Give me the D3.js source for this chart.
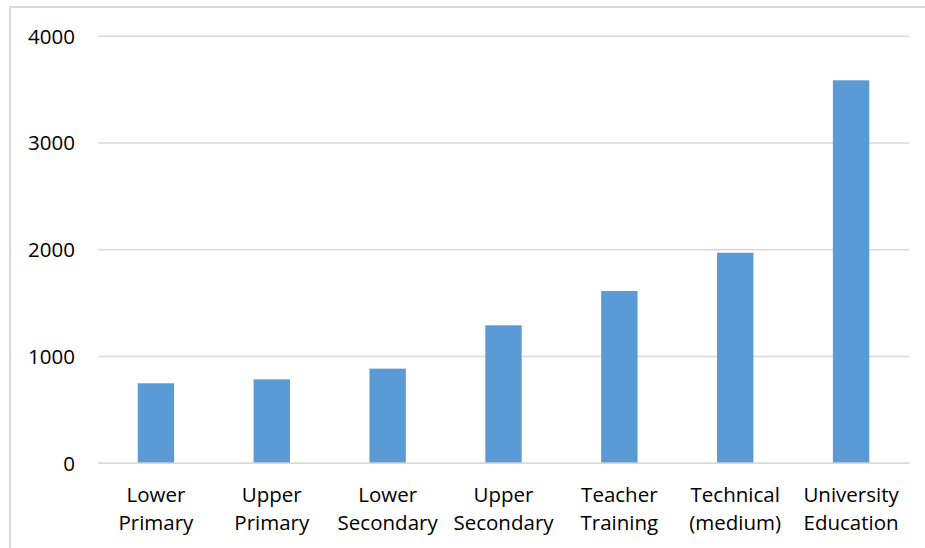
<!DOCTYPE html>
<html><head><meta charset="utf-8">
<script src="https://cdn.jsdelivr.net/npm/d3@7"></script>
<style>body{margin:0;background:#fff}svg{display:block}</style>
</head><body><svg id="c" width="925" height="548"></svg>
<script>
const categories = [["Lower","Primary"],["Upper","Primary"],["Lower","Secondary"],["Upper","Secondary"],["Teacher","Training"],["Technical","(medium)"],["University","Education"]];
const values = [744, 781, 881, 1287, 1608, 1967, 3582];
const yTicks = [0, 1000, 2000, 3000, 4000];

const svg = d3.select("#c");
const font = "'Open Sans', sans-serif";
const fs = 20.5;
svg.append("rect").attr("x",10).attr("y",7).attr("width",940).attr("height",560)
  .attr("fill","none").attr("stroke","#d9d9d9").attr("stroke-width",2);

const x = d3.scaleBand().domain(d3.range(categories.length)).range([98, 909]).paddingInner(0.686).paddingOuter(0.343);
const y = d3.scaleLinear().domain([0, 4000]).range([462.7, 35.7]);

const gy = svg.append("g").attr("transform","translate(98,0)")
  .call(d3.axisLeft(y).tickValues(yTicks).tickSize(-811).tickPadding(23).tickFormat(d3.format("d")));
gy.select(".domain").remove();
gy.selectAll(".tick line").attr("stroke","#d9d9d9").attr("stroke-width",1.5);
gy.selectAll(".tick text").attr("font-family",font).attr("font-size",fs).attr("fill","#000").attr("dy","0.36em");

svg.append("g").selectAll("rect").data(values).join("rect")
  .attr("x",(d,i)=>x(i)).attr("width",x.bandwidth())
  .attr("y",d=>y(d)).attr("height",d=>y(0)-y(d)).attr("fill","#5b9bd5");

const gx = svg.append("g").attr("transform","translate(0,462.7)")
  .call(d3.axisBottom(x).tickSize(0).tickFormat(""));
gx.select(".domain").attr("stroke","#d9d9d9").attr("stroke-width",1.5);
categories.forEach((lines,i)=>{
  const t = svg.append("text").attr("x",x(i)+x.bandwidth()/2).attr("text-anchor","middle")
    .attr("font-family",font).attr("font-size",fs).attr("fill","#000");
  lines.forEach((l,j)=>t.append("tspan").attr("x",x(i)+x.bandwidth()/2).attr("y",501.7+j*28.3).text(l));
});
</script></body></html>
